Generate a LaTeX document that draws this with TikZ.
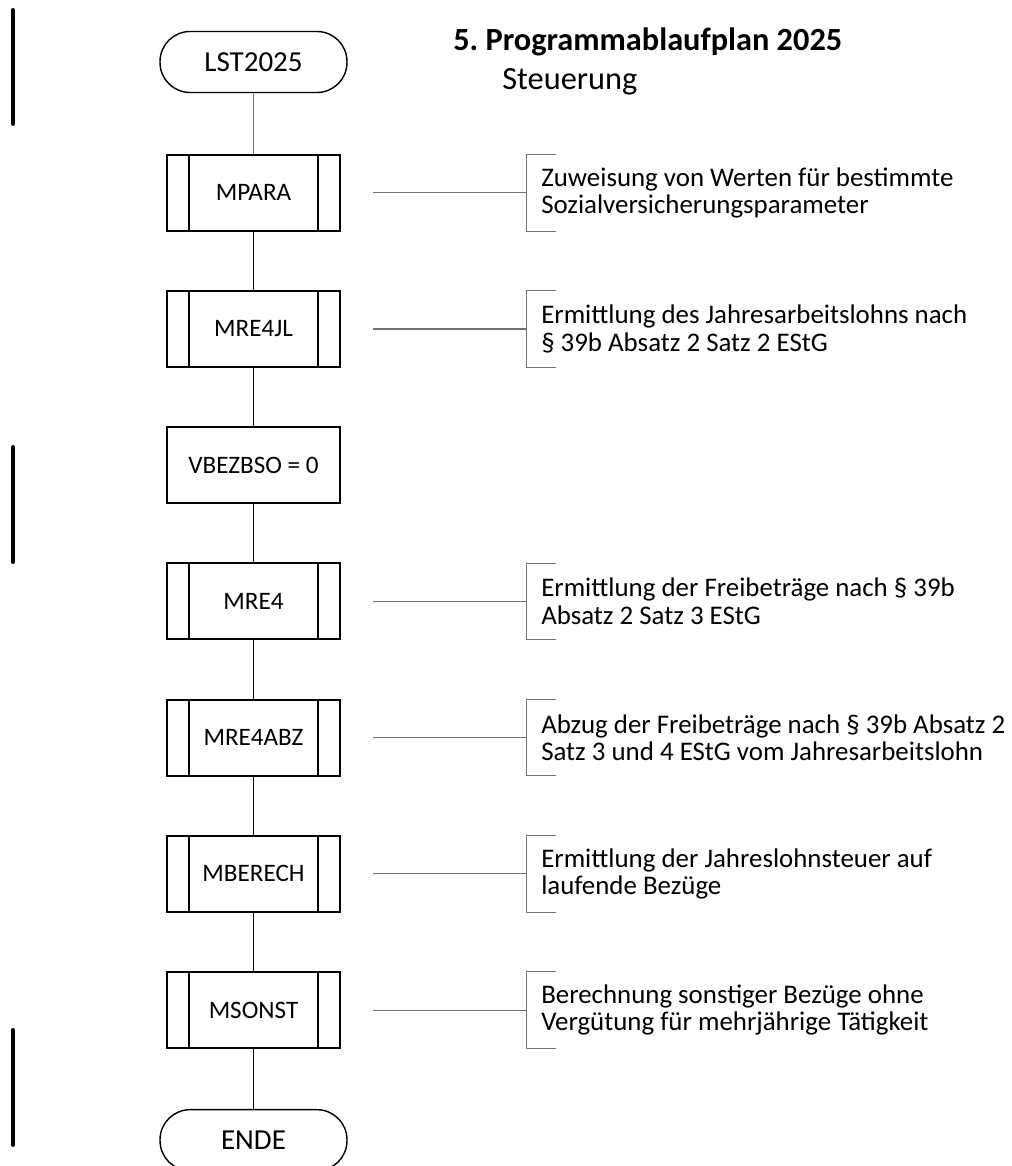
\documentclass[tikz,border=0pt]{standalone}
\usepackage{fontspec}
\setmainfont{Carlito}
\usetikzlibrary{positioning}
\tikzset{
  term/.style={draw, line width=0.8pt, rounded corners=0.6cm, minimum width=3.74cm, minimum height=1.22cm, font=\fontsize{16.5}{18}\selectfont},
  proc/.style={draw, line width=1.1pt, minimum width=3.46cm, minimum height=1.52cm, font=\fontsize{14.3}{16}\selectfont},
  note/.style={align=left, inner xsep=0.28cm, inner ysep=0pt, minimum height=1.52cm, font=\fontsize{15.3}{15.6}\selectfont},
  noteline/.style={draw=black!55, line width=0.6pt},
  flow/.style={line width=1.1pt},
  bar/.style={line width=2.3pt, line cap=round},
}
\begin{document}
\begin{tikzpicture}[x=0.02cm, y=-0.02cm]
    \useasboundingbox (0,0) rectangle (1011,1166);
    % Title %
    \node[anchor=west, inner sep=0pt, font=\fontsize{18.4}{20}\selectfont\bfseries] (title) at (453,42) {5.\ Programmablaufplan 2025};
    \node[anchor=west, inner sep=0pt, font=\fontsize{18.4}{20}\selectfont] (subtitle) at (502,82) {Steuerung};

    % Flow %
    \node[term] (lst) at (253.5,62) {LST2025};
    \node[proc, below=1.213cm of lst] (mpara) {MPARA};
    \node[proc, below=1.166cm of mpara] (mre4jl) {MRE4JL};
    \node[proc, below=1.166cm of mre4jl] (vbezbso) {VBEZBSO = 0};
    \node[proc, below=1.166cm of vbezbso] (mre4) {MRE4};
    \node[proc, below=1.166cm of mre4] (mre4abz) {MRE4ABZ};
    \node[proc, below=1.166cm of mre4abz] (mberech) {MBERECH};
    \node[proc, below=1.166cm of mberech] (msonst) {MSONST};
    \node[term, below=1.2cm of msonst] (ende) {ENDE};

    \draw[noteline] (lst) -- (mpara);
    \draw[flow] (mpara) -- (mre4jl) -- (vbezbso) -- (mre4) -- (mre4abz) -- (mberech) -- (msonst) -- (ende);

    % Unterprogramme %
    \foreach \n in {mpara,mre4jl,mre4,mre4abz,mberech,msonst}
        \draw[flow] ([xshift=0.46cm]\n.north west) -- ([xshift=0.46cm]\n.south west)
            ([xshift=-0.46cm]\n.north east) -- ([xshift=-0.46cm]\n.south east);

    % Kommentare %
    \node[note, right=3.72cm of mpara] (nmpara) {Zuweisung von Werten für bestimmte\\Sozialversicherungsparameter};
    \node[note, right=3.72cm of mre4jl] (nmre4jl) {Ermittlung des Jahresarbeitslohns nach\\§ 39b Absatz 2 Satz 2 EStG};
    \node[note, right=3.72cm of mre4] (nmre4) {Ermittlung der Freibeträge nach § 39b\\Absatz 2 Satz 3 EStG};
    \node[note, right=3.72cm of mre4abz] (nmre4abz) {Abzug der Freibeträge nach § 39b Absatz 2\\Satz 3 und 4 EStG vom Jahresarbeitslohn};
    \node[note, right=3.72cm of mberech] (nmberech) {Ermittlung der Jahreslohnsteuer auf\\laufende Bezüge};
    \node[note, right=3.72cm of msonst] (nmsonst) {Berechnung sonstiger Bezüge ohne\\Vergütung für mehrjährige Tätigkeit};
    \foreach \n in {mpara,mre4jl,mre4,mre4abz,mberech,msonst} {
        \draw[noteline] ([xshift=0.64cm]\n.east) -- (n\n.west);
        \draw[noteline] ([xshift=0.58cm]n\n.north west) -- (n\n.north west) -- (n\n.south west) -- ([xshift=0.58cm]n\n.south west);
    }

    % Randmarken %
    \draw[bar] (13,10) -- (13,124);
    \draw[bar] (13,447) -- (13,562);
    \draw[bar] (13,1030) -- (13,1145);
\end{tikzpicture}
\end{document}
